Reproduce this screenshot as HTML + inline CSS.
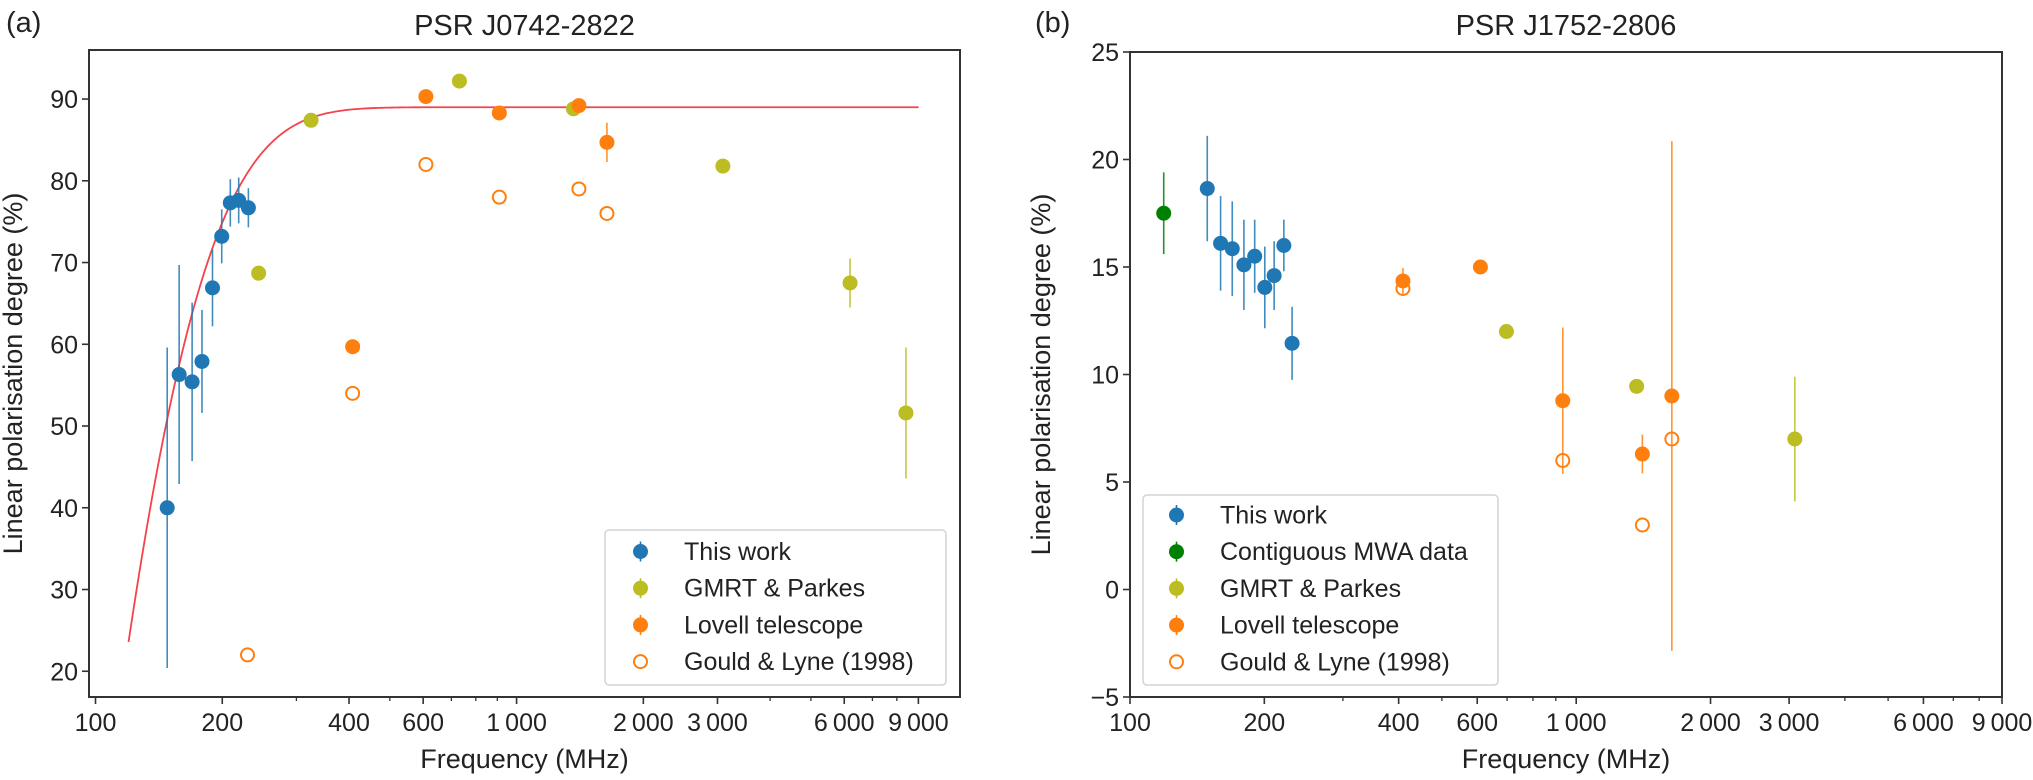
<!DOCTYPE html>
<html><head><meta charset="utf-8">
<style>
html,body{margin:0;padding:0;background:#fff;}
svg{display:block;font-family:"Liberation Sans",sans-serif;}
</style></head>
<body>
<svg id="fig" width="2033" height="780" viewBox="0 0 2033 780" xmlns="http://www.w3.org/2000/svg"></svg>
<script>
// ---------- Panel (a) data: PSR J0742-2822 ----------
const aThisFreq = [148, 158, 169.6, 179, 189.6, 199.4, 209, 218.8, 230.7];
const aThisVal  = [40.0, 56.3, 55.4, 57.9, 66.9, 73.2, 77.3, 77.6, 76.7];
const aThisErr  = [19.6, 13.4, 9.7, 6.3, 4.7, 3.3, 2.9, 2.8, 2.4];
const aGmrtFreq = [244, 325, 731.6, 1365, 3090, 6194, 8408];
const aGmrtVal  = [68.7, 87.4, 92.2, 88.8, 81.8, 67.5, 51.6];
const aGmrtErr  = [0.5, 0.5, 0.5, 0.5, 0.5, 3.0, 8.0];
const aLovFreq  = [408, 609, 910, 1406, 1639];
const aLovVal   = [59.7, 90.3, 88.3, 89.2, 84.7];
const aLovErr   = [0.5, 0.5, 0.5, 0.5, 2.4];
const aGouldFreq = [229.6, 408, 609, 910, 1406, 1639];
const aGouldVal  = [22.0, 54.0, 82.0, 78.0, 79.0, 76.0];
const aFitParams = [89.0, 103.7, 52.3]; // amplitude, f0, tau
const aFitRange  = [119.8, 9010];
const aYTicks = [20, 30, 40, 50, 60, 70, 80, 90];
// ---------- Panel (b) data: PSR J1752-2806 ----------
const bThisFreq = [149, 159.6, 169.5, 180, 190.3, 200.5, 210.4, 221.2, 230.8];
const bThisVal  = [18.65, 16.1, 15.85, 15.1, 15.5, 14.05, 14.6, 16.0, 11.45];
const bThisErr  = [2.45, 2.2, 2.2, 2.1, 1.7, 1.9, 1.6, 1.2, 1.7];
const bMwaFreq = [119];
const bMwaVal  = [17.5];
const bMwaErr  = [1.9];
const bGmrtFreq = [697.7, 1366, 3090];
const bGmrtVal  = [12.0, 9.45, 7.0];
const bGmrtErr  = [0.2, 0.2, 2.9];
const bLovFreq  = [409, 610, 933, 1407, 1638];
const bLovVal   = [14.35, 15.0, 8.78, 6.3, 9.0];
const bLovErr   = [0.6, 0.3, 3.4, 0.9, 11.85];
const bGouldFreq = [409, 933, 1407, 1638];
const bGouldVal  = [14.0, 6.0, 3.0, 7.0];
const bYTicks = [-5, 0, 5, 10, 15, 20, 25];
// shared x ticks
const xMajorTicks = [100, 200, 400, 600, 1000, 2000, 3000, 6000, 9000];
const xMajorLabels = ["100", "200", "400", "600", "1\u2009000", "2\u2009000", "3\u2009000", "6\u2009000", "9\u2009000"];
const xMinorTicks = [300, 500, 700, 800, 900, 4000, 5000, 7000, 8000];

const C = {blue:"#1f77b4", olive:"#bcbd22", orange:"#ff7f0e", green:"#008000", red:"#f5424b", axis:"#333"};
const NS = "http://www.w3.org/2000/svg";
const svg = document.getElementById("fig");
function mk(tag, attrs, parent, text){
  const e = document.createElementNS(NS, tag);
  for (const k in attrs) e.setAttribute(k, attrs[k]);
  if (text !== undefined) e.textContent = text;
  (parent || svg).appendChild(e);
  return e;
}
function makeAxes(box, xmin, xmax, ymin, ymax){
  const lx0 = Math.log10(xmin), lx1 = Math.log10(xmax);
  return {
    x: f => box.l + (Math.log10(f) - lx0) / (lx1 - lx0) * (box.r - box.l),
    y: v => box.b - (v - ymin) / (ymax - ymin) * (box.b - box.t),
    box: box
  };
}
function drawFrame(g, ax, yTicks, yLabelX, prefix){
  const b = ax.box;
  xMajorTicks.forEach((t, i) => {
    const x = ax.x(t);
    if (x < b.l - 1 || x > b.r + 1) return;
    const tk = mk("line", {x1:x, x2:x, y1:b.b, y2:b.b+7, stroke:C.axis, "stroke-width":1.6}, g);
    
    
    const lb = mk("text", {x:x, y:b.b+34, "text-anchor":"middle", "font-size":25, fill:"#222"}, g, xMajorLabels[i]);
    
    
  });
  xMinorTicks.forEach(t => {
    const x = ax.x(t);
    const tk = mk("line", {x1:x, x2:x, y1:b.b, y2:b.b+4, stroke:C.axis, "stroke-width":1.3}, g);
    
    
  });
  yTicks.forEach(t => {
    const y = ax.y(t);
    const tk = mk("line", {x1:b.l-7, x2:b.l, y1:y, y2:y, stroke:C.axis, "stroke-width":1.6}, g);
    
    
    const lb = mk("text", {x:b.l-11, y:y+9, "text-anchor":"end", "font-size":25, fill:"#222"}, g, t < 0 ? "\u2212" + Math.abs(t) : String(t));
    
    
  });
  const fr = mk("rect", {x:b.l, y:b.t, width:b.r-b.l, height:b.b-b.t, fill:"none", stroke:C.axis, "stroke-width":2}, g);
  
  
  const xl = mk("text", {x:(b.l+b.r)/2, y:768, "text-anchor":"middle", "font-size":27, fill:"#222"}, g, "Frequency (MHz)");
  
  
  const cy = (b.t + b.b) / 2;
  const yl = mk("text", {x:yLabelX, y:cy, "text-anchor":"middle", "font-size":27, fill:"#222", transform:"rotate(-90 "+yLabelX+" "+cy+")"}, g, "Linear polarisation degree (%)");
  
  
}
function drawSeries(g, ax, freqs, vals, errs, color, name, open){
  freqs.forEach((f, i) => {
    const x = ax.x(f), y = ax.y(vals[i]);
    if (errs) {
      const e = mk("line", {x1:x, x2:x, y1:ax.y(vals[i]+errs[i]), y2:ax.y(vals[i]-errs[i]), stroke:color, "stroke-width":1.6, opacity:0.85}, g);
      
      
    }
    const c = open
      ? mk("circle", {cx:x, cy:y, r:6.5, fill:"none", stroke:color, "stroke-width":2}, g)
      : mk("circle", {cx:x, cy:y, r:7.5, fill:color}, g);
    
    
  });
}
function drawLegend(g, box, entries, prefix){
  const lr = mk("rect", {x:box.x, y:box.y, width:box.w, height:box.h, rx:4, fill:"#fff", "fill-opacity":0.85, stroke:"#d4d4d4", "stroke-width":1.5}, g);
  
  
  entries.forEach((en, i) => {
    const y = box.y0 + i * 36.7;
    const eg = mk("g", {}, g);
    
    
    if (en.open) {
      mk("circle", {cx:box.mx, cy:y, r:6.5, fill:"none", stroke:en.color, "stroke-width":2}, eg);
    } else {
      mk("line", {x1:box.mx, x2:box.mx, y1:y-10, y2:y+10, stroke:en.color, "stroke-width":1.6}, eg);
      mk("circle", {cx:box.mx, cy:y, r:7.5, fill:en.color}, eg);
    }
    mk("text", {x:box.tx, y:y+8.5, "font-size":25, fill:"#222"}, eg, en.label);
  });
}

// ---------- Panel (a) ----------
const gA = mk("g", {});


const axA = makeAxes({l:89, r:960, t:50, b:697}, 96.5, 11300, 16.85, 96.0);
drawFrame(gA, axA, aYTicks, 22, "panel-a");
(function(){
  let d = "";
  const n = 300, l0 = Math.log10(aFitRange[0]), l1 = Math.log10(aFitRange[1]);
  for (let i = 0; i <= n; i++){
    const f = Math.pow(10, l0 + (l1 - l0) * i / n);
    const v = aFitParams[0] * (1 - Math.exp(-(f - aFitParams[1]) / aFitParams[2]));
    d += (i ? "L" : "M") + axA.x(f).toFixed(2) + " " + axA.y(v).toFixed(2);
  }
  const p = mk("path", {d:d, fill:"none", stroke:C.red, "stroke-width":1.8}, gA);
  
  
})();
drawSeries(gA, axA, aGouldFreq, aGouldVal, null, C.orange, "a-gould-lyne", true);
drawSeries(gA, axA, aGmrtFreq, aGmrtVal, aGmrtErr, C.olive, "a-gmrt-parkes", false);
drawSeries(gA, axA, aLovFreq, aLovVal, aLovErr, C.orange, "a-lovell", false);
drawSeries(gA, axA, aThisFreq, aThisVal, aThisErr, C.blue, "a-this-work", false);
drawLegend(gA, {x:605, y:530, w:341, h:155, y0:551.5, mx:640.5, tx:684}, [
  {label:"This work", color:C.blue},
  {label:"GMRT & Parkes", color:C.olive},
  {label:"Lovell telescope", color:C.orange},
  {label:"Gould & Lyne (1998)", color:C.orange, open:true}
], "panel-a");
const tA = mk("text", {x:(89+960)/2, y:35, "text-anchor":"middle", "font-size":29, fill:"#222"}, gA, "PSR J0742-2822");


const lA = mk("text", {x:6, y:32, "font-size":29, fill:"#222"}, gA, "(a)");



// ---------- Panel (b) ----------
const gB = mk("g", {});


const axB = makeAxes({l:1130, r:2002, t:52, b:697}, 100, 9000, -5, 25);
drawFrame(gB, axB, bYTicks, 1050, "panel-b");
drawSeries(gB, axB, bGouldFreq, bGouldVal, null, C.orange, "b-gould-lyne", true);
drawSeries(gB, axB, bGmrtFreq, bGmrtVal, bGmrtErr, C.olive, "b-gmrt-parkes", false);
drawSeries(gB, axB, bLovFreq, bLovVal, bLovErr, C.orange, "b-lovell", false);
drawSeries(gB, axB, bMwaFreq, bMwaVal, bMwaErr, C.green, "b-contiguous-mwa", false);
drawSeries(gB, axB, bThisFreq, bThisVal, bThisErr, C.blue, "b-this-work", false);
drawLegend(gB, {x:1143, y:495, w:355, h:190, y0:515, mx:1176.5, tx:1220}, [
  {label:"This work", color:C.blue},
  {label:"Contiguous MWA data", color:C.green},
  {label:"GMRT & Parkes", color:C.olive},
  {label:"Lovell telescope", color:C.orange},
  {label:"Gould & Lyne (1998)", color:C.orange, open:true}
], "panel-b");
const tB = mk("text", {x:(1130+2002)/2, y:35, "text-anchor":"middle", "font-size":29, fill:"#222"}, gB, "PSR J1752-2806");


const lB = mk("text", {x:1035, y:32, "font-size":29, fill:"#222"}, gB, "(b)");


</script>
</body></html>
